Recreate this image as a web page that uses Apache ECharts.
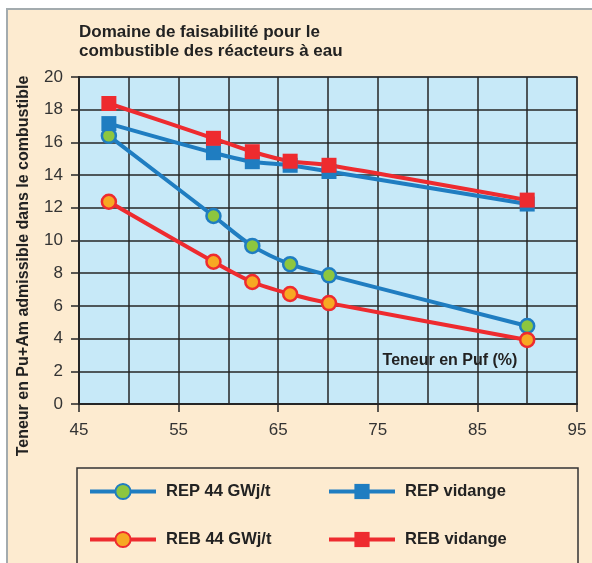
<!DOCTYPE html>
<html>
<head>
<meta charset="utf-8">
<script src="https://cdn.jsdelivr.net/npm/echarts@6/dist/echarts.min.js"></script>
<style>
  html, body { margin: 0; padding: 0; background: #ffffff; }
  #wrap { position: relative; width: 592px; height: 563px; overflow: hidden; background: #ffffff; }
  #frame { position: absolute; left: 6px; top: 8px; width: 620px; height: 600px; background: #FDEBD0; border-left: 2px solid #A3ABAE; border-top: 2px solid #A3ABAE; }
  #chart { position: absolute; left: 0; top: 0; width: 592px; height: 563px; }
</style>
</head>
<body>
<div id="wrap"><div id="frame"></div><div id="chart"></div></div>
<script>
// ---- Data ----
const titleText = 'Domaine de faisabilité pour le\ncombustible des réacteurs à eau';
const yAxisTitle = 'Teneur en Pu+Am admissible dans le combustible';
const xAxisTitle = 'Teneur en Puf (%)';
const puf = [48, 58.5, 62.4, 66.2, 70.1, 90];
const rep44 = [16.4, 11.5, 9.67, 8.55, 7.87, 4.77];
const repVidange = [17.15, 15.37, 14.82, 14.6, 14.22, 12.23];
const reb44 = [12.37, 8.7, 7.46, 6.73, 6.17, 3.92];
const rebVidange = [18.38, 16.25, 15.43, 14.85, 14.6, 12.47];
const seriesNames = ['REP 44 GWj/t', 'REP vidange', 'REB 44 GWj/t', 'REB vidange'];
const xMin = 45, xMax = 95, xStep = 10;
const yMin = 0, yMax = 20, yStep = 2;

const pairs = (ys) => puf.map((x, i) => [x, ys[i]]);

const BLUE = '#1F7DC1', RED = '#EE2B2F', GREEN = '#8DC63F', ORANGE = '#F7A823';
const DARK = '#262626';
const FONT = 'Liberation Sans, Arial, sans-serif';

const legendCommon = {
  orient: 'vertical', top: 482, padding: 0,
  itemWidth: 66, itemHeight: 19, itemGap: 29,
  lineStyle: { width: 4 },
  textStyle: { fontSize: 16.5, fontWeight: 'bold', color: '#222', lineHeight: 19, padding: [0, 0, 0, 5], fontFamily: FONT }
};

const chart = echarts.init(document.getElementById('chart'));
chart.setOption({
  backgroundColor: 'transparent',
  animation: false,
  textStyle: { fontFamily: FONT },
  title: {
    text: titleText,
    left: 79, top: 23, padding: 0,
    textStyle: { fontSize: 17, fontWeight: 'bold', color: '#222', lineHeight: 19, fontFamily: FONT }
  },
  grid: {
    left: 79, right: 15, top: 77, bottom: 159,
    show: true, backgroundColor: '#C7E9F8', borderColor: '#8E9CA4', borderWidth: 2
  },
  xAxis: {
    type: 'value', min: xMin, max: xMax, interval: xStep,
    axisLine: { show: true, onZero: false, lineStyle: { color: DARK, width: 2 } },
    axisTick: { show: true, length: 8, lineStyle: { color: DARK, width: 1.5 } },
    axisLabel: { fontSize: 17, color: '#333', margin: 18 },
    splitLine: { show: true, lineStyle: { color: DARK, width: 1.5 } },
    minorTick: { show: false, splitNumber: 2 },
    minorSplitLine: { show: true, lineStyle: { color: DARK, width: 1.5 } }
  },
  yAxis: {
    type: 'value', min: yMin, max: yMax, interval: yStep,
    axisLine: { show: true, lineStyle: { color: DARK, width: 2 } },
    axisTick: { show: true, length: 8, lineStyle: { color: DARK, width: 1.5 } },
    axisLabel: { fontSize: 17, color: '#333', margin: 16 },
    splitLine: { show: true, lineStyle: { color: DARK, width: 1.5 } }
  },
  legend: [
    Object.assign({ data: [seriesNames[0], seriesNames[2]], left: 88 }, legendCommon),
    Object.assign({ data: [seriesNames[1], seriesNames[3]], left: 327 }, legendCommon)
  ],
  graphic: [
    {
      type: 'text', x: 24, y: 266, rotation: Math.PI / 2,
      style: { text: yAxisTitle, fontSize: 16, fontWeight: 'bold', fill: '#222', align: 'center', verticalAlign: 'middle', fontFamily: FONT }
    },
    {
      type: 'text', x: 450, y: 361, z: 100,
      style: { text: xAxisTitle, fontSize: 16, fontWeight: 'bold', fill: '#222', align: 'center', verticalAlign: 'middle', fontFamily: FONT }
    },
    {
      type: 'rect', shape: { x: 77, y: 468, width: 501, height: 130 },
      style: { fill: 'none', stroke: '#333', lineWidth: 1.5 }
    }
  ],
  series: [
    {
      name: seriesNames[0], type: 'line', data: pairs(rep44), smooth: 0.3,
      symbol: 'circle', symbolSize: 14,
      lineStyle: { color: BLUE, width: 4 },
      itemStyle: { color: GREEN, borderColor: BLUE, borderWidth: 2.5 }
    },
    {
      name: seriesNames[1], type: 'line', data: pairs(repVidange), smooth: 0.3,
      symbol: 'rect', symbolSize: 15,
      lineStyle: { color: BLUE, width: 4 },
      itemStyle: { color: BLUE }
    },
    {
      name: seriesNames[2], type: 'line', data: pairs(reb44), smooth: 0.3,
      symbol: 'circle', symbolSize: 14,
      lineStyle: { color: RED, width: 4 },
      itemStyle: { color: ORANGE, borderColor: RED, borderWidth: 2.5 }
    },
    {
      name: seriesNames[3], type: 'line', data: pairs(rebVidange), smooth: 0.3,
      symbol: 'rect', symbolSize: 15,
      lineStyle: { color: RED, width: 4 },
      itemStyle: { color: RED }
    }
  ]
});
</script>
</body>
</html>
